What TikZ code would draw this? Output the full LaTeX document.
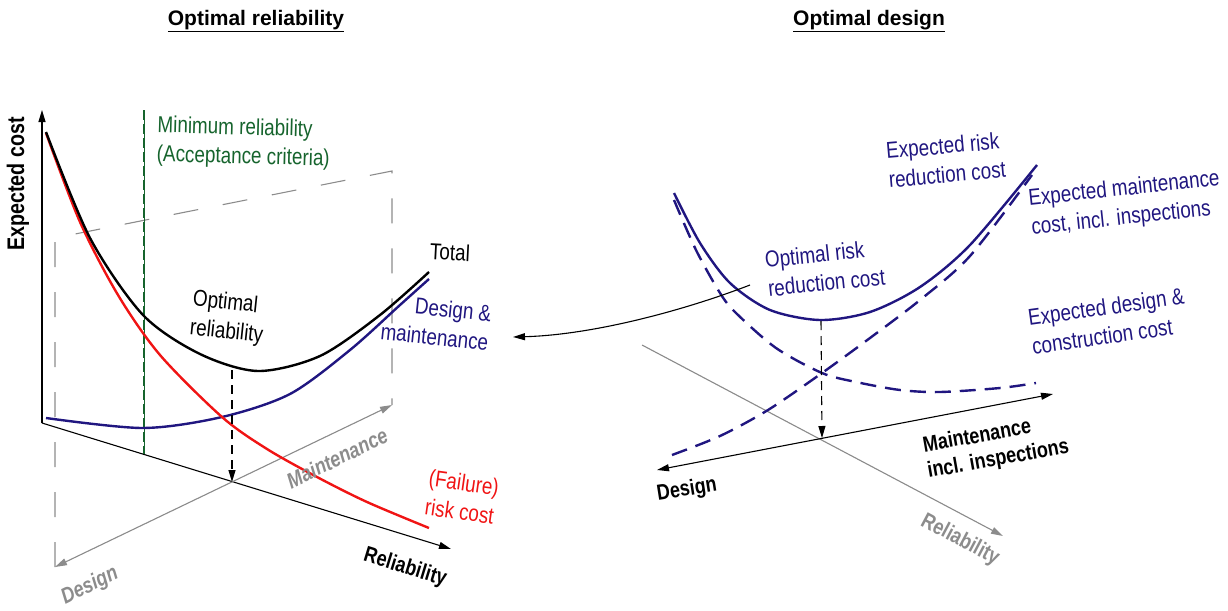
\documentclass[tikz,border=0pt]{standalone}
\usepackage{fontspec}
\setmainfont{Liberation Sans}
\newfontfamily\narrowsf[FakeStretch=0.82]{Liberation Sans}
\usetikzlibrary{arrows.meta, positioning}
\definecolor{cNavy}{RGB}{32,22,128}
\definecolor{cGreen}{RGB}{22,100,45}
\definecolor{cRed}{RGB}{240,20,20}
\definecolor{cGrey}{RGB}{140,140,140}
\tikzset{
	axis/.style     ={-{Triangle[length=12pt,width=7pt]}, line width=1.1pt},
	biaxis/.style   ={{Triangle[length=12pt,width=7pt]}-{Triangle[length=12pt,width=7pt]}, line width=1.1pt},
	guide/.style    ={draw=cGrey, line width=1.1pt, dash pattern=on 25pt off 25pt},
	curve/.style    ={line width=2.4pt, smooth},
	dcurve/.style   ={curve, dash pattern=on 16pt off 9pt},
	drop/.style     ={-{Triangle[length=12pt,width=7pt]}, line width=1.1pt, dash pattern=on 9pt off 6pt},
	sig/.style      ={-{Triangle[length=12pt,width=7pt]}, line width=1.1pt},
	% text styles
	lbl/.style      ={font=\narrowsf\fontsize{23}{29}\selectfont, inner sep=0pt},
	axlbl/.style    ={font=\narrowsf\bfseries\fontsize{22}{26}\selectfont, inner sep=0pt},
	ttl/.style      ={font=\bfseries\fontsize{21}{25}\selectfont, inner sep=0pt},
}
\begin{document}
\begin{tikzpicture}[x=1pt, y=-1pt]
	\useasboundingbox (0,0) rectangle (1228,610);
	% titles
	\node[ttl] (tRel) at (256,21) {\underline{Optimal reliability}};
	\node[ttl] (tDes) at (869,21) {\underline{Optimal design}};

	% ---- optimal reliability ----
	\coordinate (lO) at (42,423);
	\coordinate (lY) at (42,110);
	\coordinate (lR) at (451,549);
	\coordinate (lM) at (392,405);
	\coordinate (lD) at (55,567);
	\coordinate (lX) at (232,482);
	\draw[guide] (lD) -- (55,238) -- (392,171) -- (lM);
	\draw[axis] (lO) -- (lY);
	\draw[axis] (lO) -- (lR);
	\draw[biaxis, draw=cGrey, fill=cGrey] (lM) -- (lD);
	\draw[cGreen, line width=0.8pt] (144,110) -- (144,454);
	\draw[cGreen, line width=2.2pt, dash pattern=on 10pt off 4pt] (144,110) -- (144,454);
	\draw[curve, cNavy] plot coordinates {(46,418) (143,428) (222,417) (290,394) (350,350) (400,305) (429,279)};
	\draw[curve, cRed] plot coordinates {(46,133) (80,222) (118,295) (160,355) (222,417) (267,449) (317,477) (367,502) (429,528)};
	\draw[curve] plot coordinates {(46,132) (90,238) (143,315) (200,354) (258,371) (320,356) (380,315) (429,272)};
	\draw[drop] (232,370) -- (lX);

	\node[axlbl, rotate=90, font=\narrowsf\bfseries\fontsize{24}{28}\selectfont] (yLbl) at (18,184) {Expected cost};
	\node[lbl, cGreen, align=left, anchor=west, rotate=-1.5] (minRel) at (157,141) {Minimum reliability\\(Acceptance criteria)};
	\node[lbl, rotate=-3] (total) at (450,252) {Total};
	\node[lbl, align=left, rotate=-6] (optRel) at (228,318) {Optimal\\reliability};
	\node[lbl, cNavy, align=right, anchor=east, rotate=-6] (desMnt) at (490,328) {Design \&\\maintenance};
	\node[lbl, cRed, align=left, rotate=-8] (riskCost) at (462,497) {(Failure)\\risk cost};
	\node[axlbl, cGrey, font=\narrowsf\bfseries\itshape\fontsize{22}{26}\selectfont, rotate=26] (lMLbl) at (337,458) {Maintenance};
	\node[axlbl, cGrey, font=\narrowsf\bfseries\itshape\fontsize{22}{26}\selectfont, rotate=26] (lDLbl) at (90,586) {Design};
	\node[axlbl, rotate=-17] (lRLbl) at (405,568) {Reliability};

	% ---- optimal design ----
	\coordinate (rO) at (822,438);
	\coordinate (rD) at (657,470);
	\coordinate (rM) at (1053,394);
	\coordinate (rS) at (642,345);
	\coordinate (rR) at (1003,536);
	\draw[axis, draw=cGrey, fill=cGrey] (rS) -- (rR);
	\draw[biaxis] (rD) -- (rM);
	\draw[dcurve, cNavy] plot coordinates {(674,200) (696,250) (720,293) (736,313) (776,348) (822,373) (856,382) (900,390) (940,392) (1000,388) (1036,383)};
	\draw[dcurve, cNavy] plot coordinates {(672,455) (720,436) (768,410) (822,373) (870,338) (920,300) (970,256) (1032,175)};
	\draw[curve, cNavy] plot coordinates {(674,193) (700,243) (730,283) (770,310) (820,320) (870,312) (920,287) (970,245) (1037,165)};
	\draw[drop] (821,321) -- (rO);

	\node[lbl, cNavy, align=left, rotate=5] (rrCost) at (946,160) {Expected risk\\reduction cost};
	\node[lbl, cNavy, align=left, anchor=west, rotate=6] (mCost) at (1030,214) {Expected maintenance\\cost, incl. inspections};
	\node[lbl, cNavy, align=left, anchor=west, rotate=8] (dCost) at (1030,332) {Expected design \&\\construction cost};
	\node[lbl, cNavy, align=left, rotate=6] (optRR) at (825,268) {Optimal risk\\reduction cost};
	\node[axlbl, align=left, rotate=10] (rMLbl) at (996,447) {Maintenance\\incl. inspections};
	\node[axlbl, rotate=9] (rDLbl) at (687,490) {Design};
	\node[axlbl, cGrey, rotate=-28] (rRLbl) at (960,540) {Reliability};

	% link between the two pictures
	\coordinate (lnkS) at (750,285);
	\coordinate (lnkE) at (513,337);
	\draw[sig] (lnkS) .. controls (680,312) and (590,335) .. (lnkE);
\end{tikzpicture}
\end{document}
